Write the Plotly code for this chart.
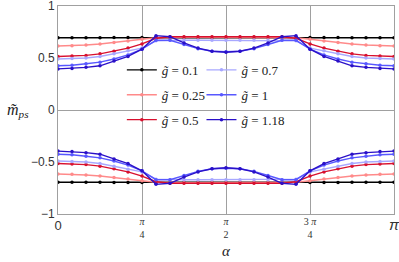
import numpy as np
import plotly.graph_objects as go

# alpha grid: 25 samples from 0 to pi
ALPHA = [k * np.pi / 24 for k in range(25)]

G_LABELS = ["0.1", "0.25", "0.5", "0.7", "1", "1.18"]
COLORS = ["#000000", "#ff8a8a", "#d8102e", "#a8a8ff", "#5858ff", "#2a10c8"]

M_UP = {
    "0.1":  [0.695, 0.695, 0.695, 0.695, 0.696, 0.697, 0.698, 0.700, 0.700, 0.700, 0.700, 0.700, 0.700,
             0.700, 0.700, 0.700, 0.700, 0.700, 0.698, 0.697, 0.696, 0.695, 0.695, 0.695, 0.695],
    "0.25": [0.615, 0.618, 0.625, 0.635, 0.648, 0.663, 0.680, 0.695, 0.700, 0.700, 0.700, 0.700, 0.700,
             0.700, 0.700, 0.700, 0.700, 0.695, 0.680, 0.663, 0.648, 0.635, 0.625, 0.618, 0.615],
    "0.5":  [0.515, 0.520, 0.525, 0.540, 0.565, 0.595, 0.635, 0.690, 0.705, 0.705, 0.705, 0.705, 0.705,
             0.705, 0.705, 0.705, 0.705, 0.690, 0.635, 0.595, 0.565, 0.540, 0.525, 0.520, 0.515],
    "0.7":  [0.490, 0.495, 0.500, 0.515, 0.540, 0.570, 0.595, 0.665, 0.670, 0.670, 0.670, 0.670, 0.670,
             0.670, 0.670, 0.670, 0.670, 0.665, 0.595, 0.570, 0.540, 0.515, 0.500, 0.495, 0.490],
    "1":    [0.425, 0.430, 0.445, 0.460, 0.490, 0.530, 0.585, 0.670, 0.670, 0.630, 0.590, 0.565, 0.560,
             0.565, 0.590, 0.630, 0.670, 0.670, 0.585, 0.530, 0.490, 0.460, 0.445, 0.430, 0.425],
    "1.18": [0.395, 0.400, 0.410, 0.425, 0.470, 0.515, 0.585, 0.715, 0.705, 0.645, 0.595, 0.565, 0.555,
             0.565, 0.595, 0.645, 0.705, 0.715, 0.585, 0.515, 0.470, 0.425, 0.410, 0.400, 0.395],
}

M_DOWN = {
    "0.1":  [-0.695, -0.695, -0.695, -0.695, -0.696, -0.697, -0.698, -0.700, -0.700, -0.700, -0.700, -0.700, -0.700,
             -0.700, -0.700, -0.700, -0.700, -0.700, -0.698, -0.697, -0.696, -0.695, -0.695, -0.695, -0.695],
    "0.25": [-0.615, -0.618, -0.625, -0.635, -0.648, -0.663, -0.680, -0.695, -0.700, -0.700, -0.700, -0.700, -0.700,
             -0.700, -0.700, -0.700, -0.700, -0.695, -0.680, -0.663, -0.648, -0.635, -0.625, -0.618, -0.615],
    "0.5":  [-0.515, -0.520, -0.525, -0.540, -0.565, -0.595, -0.635, -0.690, -0.705, -0.705, -0.705, -0.705, -0.705,
             -0.705, -0.705, -0.705, -0.705, -0.690, -0.635, -0.595, -0.565, -0.540, -0.525, -0.520, -0.515],
    "0.7":  [-0.490, -0.495, -0.500, -0.515, -0.540, -0.570, -0.595, -0.665, -0.670, -0.670, -0.670, -0.670, -0.670,
             -0.670, -0.670, -0.670, -0.670, -0.665, -0.595, -0.570, -0.540, -0.515, -0.500, -0.495, -0.490],
    "1":    [-0.425, -0.430, -0.445, -0.460, -0.490, -0.530, -0.585, -0.670, -0.670, -0.630, -0.590, -0.565, -0.560,
             -0.565, -0.590, -0.630, -0.670, -0.670, -0.585, -0.530, -0.490, -0.460, -0.445, -0.430, -0.425],
    "1.18": [-0.395, -0.400, -0.410, -0.425, -0.470, -0.515, -0.585, -0.715, -0.705, -0.645, -0.595, -0.565, -0.555,
             -0.565, -0.595, -0.645, -0.705, -0.715, -0.585, -0.515, -0.470, -0.425, -0.410, -0.400, -0.395],
}

# fractional ticks (main x axis) and whole ticks (overlay axis)
X_FRAC_VALS = [np.pi / 4, np.pi / 2, 3 * np.pi / 4]
X_FRAC_TEXT = ["<i>π</i><br>4", "<i>π</i><br>2", "3 <i>π</i><br>4"]
X_END_VALS = [0, np.pi]
X_END_TEXT = ["<span style='font-family:Liberation Sans'>0</span>",
              "<span style='font-size:15px'><i>π</i></span>"]
Y_TICKVALS = [-1, -0.5, 0, 0.5, 1]
Y_TICKTEXT = ["−1", "−0.5", "0", "0.5", "1"]

SERIF = "Liberation Serif"
SANS = "Liberation Sans"
FRAME = "#a0a0a0"

fig = go.Figure()

for i, g in enumerate(G_LABELS):
    leg = "legend" if i < 3 else "legend2"
    fig.add_trace(go.Scatter(
        x=ALPHA, y=M_UP[g], mode="lines+markers",
        name=f"<i>g̃</i> = {g}", legendgroup=g, legend=leg,
        line=dict(color=COLORS[i], width=1.4),
        marker=dict(color=COLORS[i], size=3.5),
        showlegend=True,
    ))
    fig.add_trace(go.Scatter(
        x=ALPHA, y=M_DOWN[g], mode="lines+markers",
        name=f"<i>g̃</i> = {g}", legendgroup=g, legend=leg,
        line=dict(color=COLORS[i], width=1.4),
        marker=dict(color=COLORS[i], size=3.5),
        showlegend=False,
    ))

# transparent carrier trace so the overlay x axis (end labels) is drawn
fig.add_trace(go.Scatter(
    x=ALPHA, y=M_UP["0.1"], xaxis="x2", yaxis="y", mode="lines",
    line=dict(width=0, color="rgba(0,0,0,0)"), opacity=0,
    hoverinfo="skip", showlegend=False,
))

legend_common = dict(
    bgcolor="rgba(0,0,0,0)", borderwidth=0,
    font=dict(family=SERIF, size=13, color="#222"),
    tracegroupgap=5, xanchor="left", yanchor="top",
    itemwidth=30,
)

fig.update_layout(
    width=399, height=262,
    margin=dict(l=58, r=5, t=6, b=48, autoexpand=False),
    paper_bgcolor="white", plot_bgcolor="white",
    legend=dict(x=0.19, y=0.765, **legend_common),
    legend2=dict(x=0.427, y=0.765, **legend_common),
    xaxis=dict(
        range=[0, np.pi], tickvals=X_FRAC_VALS, ticktext=X_FRAC_TEXT,
        tickfont=dict(family=SERIF, size=10, color="#333"),
        showgrid=True, gridcolor=FRAME, gridwidth=1,
        zeroline=False, showline=True, linecolor=FRAME, linewidth=1, mirror=True,
        ticks="", automargin=False, ticklabelstandoff=-2, ticklabeloverflow="allow",
    ),
    xaxis2=dict(
        overlaying="x", side="bottom", anchor="y",
        range=[0, np.pi], tickvals=X_END_VALS, ticktext=X_END_TEXT,
        tickfont=dict(family=SANS, size=13, color="#333"),
        showgrid=False, zeroline=False, showline=False,
        ticks="", automargin=False, ticklabelstandoff=2, ticklabeloverflow="allow",
    ),
    yaxis=dict(
        range=[-1, 1], tickvals=Y_TICKVALS, ticktext=Y_TICKTEXT,
        tickfont=dict(family=SANS, size=12, color="#333"),
        showgrid=False, zeroline=True, zerolinecolor=FRAME, zerolinewidth=1,
        showline=True, linecolor=FRAME, linewidth=1, mirror=True,
        ticks="", automargin=False, ticklabeloverflow="allow",
    ),
    annotations=[
        dict(text="<i>m̃</i><sub><i>ps</i></sub>", x=-0.12, y=0.5, xref="paper", yref="paper",
             xanchor="center", yanchor="middle",
             showarrow=False, font=dict(family=SERIF, size=16, color="#222")),
        dict(text="<i>α</i>", x=0.5, y=-0.18, xref="paper", yref="paper",
             showarrow=False, xanchor="center", yanchor="middle",
             font=dict(family=SERIF, size=15, color="#222")),
    ],
)

fig.write_html(
    "out.html",
    config={"displayModeBar": False},
    post_script="document.body.style.margin='0';document.body.style.overflow='hidden';",
)
